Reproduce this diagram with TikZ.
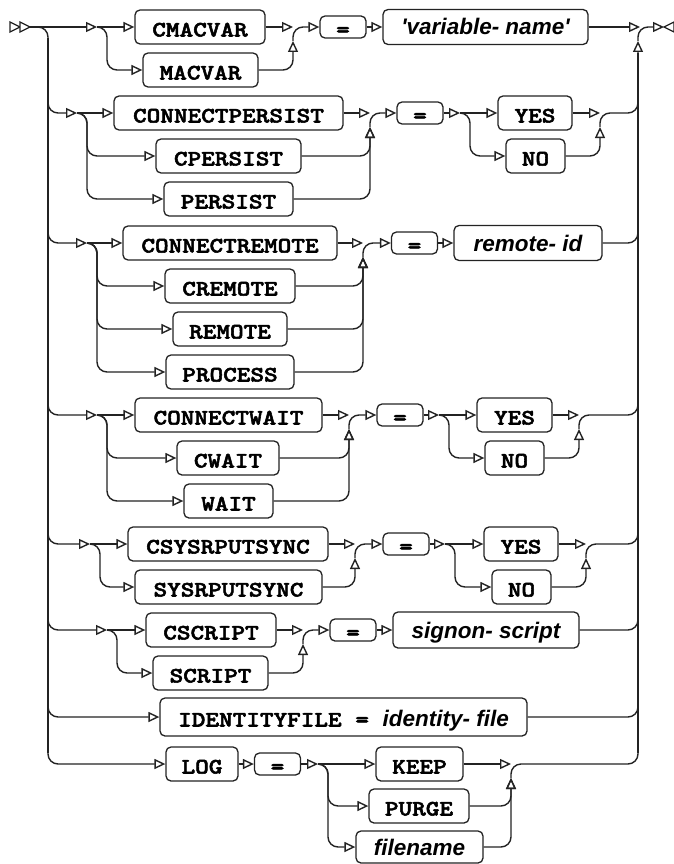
\documentclass[tikz,border=0pt]{standalone}
\usepackage{fontspec}
\newfontfamily\kwfont{lmmonolt10-bold.otf}[FakeStretch=1.18, FakeBold=2.5]
\newfontfamily\sansit{Liberation Sans}[Ligatures=TeXOff]
\usetikzlibrary{arrows.meta}
\definecolor{lc}{RGB}{35,35,35}
\newcommand\itxt{\fontsize{22.5}{26}\selectfont\sansit\bfseries\itshape}
\begin{document}
\begin{tikzpicture}[x=1pt,y=-1pt,
  ln/.style={line width=1.4pt, draw=lc},
  rc/.style={rounded corners=10pt},
  arr/.style={-{Triangle[open,length=11pt,width=10pt]}},
  endmark/.style={draw=lc, line width=1.3pt, fill=white},
  box/.style={draw=lc, line width=1.3pt, rounded corners=5pt, fill=white, inner sep=0pt,
    minimum height=34pt, text height=19pt, text depth=0pt,
    font=\fontsize{22}{26}\selectfont\kwfont},
  eqb/.style={box, minimum height=22pt, minimum width=46pt},
  itb/.style={box, font=\itxt, text height=18pt, text depth=2pt, minimum height=35pt},
]
\useasboundingbox (0,0) rectangle (674,864);

% ---------- markers
\coordinate (start) at (28,27);
\coordinate (endm) at (664,27);
\draw[endmark] (10,22) -- (20,27) -- (10,32) -- cycle;
\draw[endmark] (20,22) -- (30,27) -- (20,32) -- cycle;
\draw[endmark] (674,22) -- (664,27) -- (674,32) -- cycle;

% ---------- nodes
% row 1
\node[box, minimum width=130pt] (cmacvar) at (200,27) {CMACVAR};
\node[box, minimum width=115pt] (macvar) at (200.5,70) {MACVAR};
\node[eqb] (eq1) at (343,27) {=};
\node[itb, minimum width=205pt] (varname) at (485.5,27) {'variable- name'};
% row 2
\node[box, minimum width=229pt] (cp) at (228.5,113) {CONNECTPERSIST};
\node[box, minimum width=145pt] (cpe) at (228.5,156) {CPERSIST};
\node[box, minimum width=129pt] (pe) at (228.5,199) {PERSIST};
\node[eqb] (eq2) at (420,113) {=};
\node[box, minimum width=74pt] (yes2) at (535,113) {YES};
\node[box, minimum width=59pt] (no2) at (535.5,156) {NO};
% row 3
\node[box, minimum width=214pt] (cr) at (230,243) {CONNECTREMOTE};
\node[box, minimum width=130pt] (cre) at (230,286) {CREMOTE};
\node[box, minimum width=114pt] (re) at (230,329) {REMOTE};
\node[box, minimum width=128pt] (pr) at (230,372) {PROCESS};
\node[eqb] (eq3) at (414.5,243) {=};
\node[itb, minimum width=148pt] (rid) at (528,243) {remote- id};
% row 4
\node[box, minimum width=187pt] (cw) at (228.5,415) {CONNECTWAIT};
\node[box, minimum width=102pt] (cwa) at (228,458) {CWAIT};
\node[box, minimum width=89pt] (wa) at (228.5,501) {WAIT};
\node[eqb] (eq4) at (400,415) {=};
\node[box, minimum width=75pt] (yes4) at (514.5,415) {YES};
\node[box, minimum width=59pt] (no4) at (514.5,458) {NO};
% row 5
\node[box, minimum width=200pt] (cs) at (228,544) {CSYSRPUTSYNC};
\node[box, minimum width=187pt] (sy) at (228.5,587) {SYSRPUTSYNC};
\node[eqb] (eq5) at (406,544) {=};
\node[box, minimum width=74pt] (yes5) at (521,544) {YES};
\node[box, minimum width=59pt] (no5) at (521.5,587) {NO};
% row 6
\node[box, minimum width=130pt] (csc) at (211,630) {CSCRIPT};
\node[box, minimum width=115pt] (sc) at (210.5,673) {SCRIPT};
\node[eqb] (eq6) at (353,630) {=};
\node[itb, minimum width=186pt, minimum height=36pt] (so) at (486,630) {signon- script};
% row 7
\node[box, minimum width=367pt, minimum height=38pt] (id) at (343.5,717) {IDENTITYFILE = {\itxt identity- file}};
% row 8
\node[box, minimum width=72pt] (log) at (202,764) {LOG};
\node[eqb] (eq8) at (277.5,764) {=};
\node[box, minimum width=87pt] (keep) at (419.5,764) {KEEP};
\node[box, minimum width=100pt] (purge) at (419,806) {PURGE};
\node[itb, minimum width=127pt, minimum height=32pt] (fn) at (419.5,847) {filename};

% ---------- trunks
\draw[ln,rc,arr] (start) -- (48,27) -- (48,764) -- (log.west);
\draw[lc, line width=2pt] (48,38) -- (48,753);
\draw[ln,rc,arr] (511,778) -- (511,764) -- (638,764) -- (638,41);
\draw[lc, line width=2pt] (638,53) -- (638,753);
\draw[ln,rc,arr] (638,41) -- (638,27) -- (endm);

% ---------- row 1
\coordinate (s1) at (97,27);
\coordinate (j1) at (293,27);
\coordinate (jr) at (640,27);
\draw[ln,arr] (start) -- (s1);
\draw[ln,arr] (s1) -- (cmacvar.west);
\draw[ln,rc,arr] (s1) -- (107,27) -- (107,70) -- (macvar.west);
\draw[ln,arr] (cmacvar.east) -- (j1);
\draw[ln,rc,arr] (macvar.east) -- (293,70) -- (293,41);
\draw[ln,rc,arr] (293,41) -- (j1) -- (eq1.west);
\draw[ln,arr] (eq1.east) -- (varname.west);
\draw[ln,arr] (varname.east) -- (jr);

% ---------- row 2
\coordinate (s2) at (77,113);
\coordinate (j2) at (370,113);
\coordinate (s2b) at (460,113);
\coordinate (j2b) at (600,113);
\draw[ln,rc,arr] (48,93) -- (48,113) -- (s2);
\draw[ln,arr] (s2) -- (cp.west);
\draw[ln,rc,arr] (s2) -- (87,113) -- (87,156) -- (cpe.west);
\draw[ln,rc,arr] (s2) -- (87,113) -- (87,199) -- (pe.west);
\draw[ln,arr] (cp.east) -- (j2);
\draw[ln,rc,arr] (cpe.east) -- (370,156) -- (370,127);
\draw[ln,rc,arr] (pe.east) -- (370,199) -- (370,127);
\draw[ln,rc,arr] (370,127) -- (j2) -- (eq2.west);
\draw[ln,arr] (eq2.east) -- (s2b);
\draw[ln,arr] (s2b) -- (yes2.west);
\draw[ln,rc,arr] (s2b) -- (470,113) -- (470,156) -- (no2.west);
\draw[ln,arr] (yes2.east) -- (j2b);
\draw[ln,rc,arr] (no2.east) -- (600,156) -- (600,127);
\draw[ln,rc] (600,127) -- (j2b) -- (638,113) -- (638,93);

% ---------- row 3
\coordinate (s3) at (87,243);
\coordinate (j3) at (363,243);
\draw[ln,rc,arr] (48,223) -- (48,243) -- (s3);
\draw[ln,arr] (s3) -- (cr.west);
\draw[ln,rc,arr] (s3) -- (97,243) -- (97,286) -- (cre.west);
\draw[ln,rc,arr] (s3) -- (97,243) -- (97,329) -- (re.west);
\draw[ln,rc,arr] (s3) -- (97,243) -- (97,372) -- (pr.west);
\draw[ln,arr] (cr.east) -- (j3);
\draw[ln,rc,arr] (cre.east) -- (363,286) -- (363,257);
\draw[ln,rc,arr] (re.east) -- (363,329) -- (363,257);
\draw[ln,rc,arr] (pr.east) -- (363,372) -- (363,257);
\draw[ln,rc,arr] (363,257) -- (j3) -- (eq3.west);
\draw[ln,arr] (eq3.east) -- (rid.west);
\draw[ln,rc] (rid.east) -- (638,243) -- (638,223);

% ---------- row 4
\coordinate (s4) at (97,415);
\coordinate (j4) at (349,415);
\coordinate (s4b) at (439,415);
\coordinate (j4b) at (579,415);
\draw[ln,rc,arr] (48,395) -- (48,415) -- (s4);
\draw[ln,arr] (s4) -- (cw.west);
\draw[ln,rc,arr] (s4) -- (107,415) -- (107,458) -- (cwa.west);
\draw[ln,rc,arr] (s4) -- (107,415) -- (107,501) -- (wa.west);
\draw[ln,arr] (cw.east) -- (j4);
\draw[ln,rc,arr] (cwa.east) -- (349,458) -- (349,429);
\draw[ln,rc,arr] (wa.east) -- (349,501) -- (349,429);
\draw[ln,rc,arr] (349,429) -- (j4) -- (eq4.west);
\draw[ln,arr] (eq4.east) -- (s4b);
\draw[ln,arr] (s4b) -- (yes4.west);
\draw[ln,rc,arr] (s4b) -- (449,415) -- (449,458) -- (no4.west);
\draw[ln,arr] (yes4.east) -- (j4b);
\draw[ln,rc,arr] (no4.east) -- (579,458) -- (579,429);
\draw[ln,rc] (579,429) -- (j4b) -- (638,415) -- (638,395);

% ---------- row 5
\coordinate (s5) at (90,544);
\coordinate (j5) at (355,544);
\coordinate (s5b) at (445,544);
\coordinate (j5b) at (586,544);
\draw[ln,rc,arr] (48,524) -- (48,544) -- (s5);
\draw[ln,arr] (s5) -- (cs.west);
\draw[ln,rc,arr] (s5) -- (100,544) -- (100,587) -- (sy.west);
\draw[ln,arr] (cs.east) -- (j5);
\draw[ln,rc,arr] (sy.east) -- (355,587) -- (355,558);
\draw[ln,rc,arr] (355,558) -- (j5) -- (eq5.west);
\draw[ln,arr] (eq5.east) -- (s5b);
\draw[ln,arr] (s5b) -- (yes5.west);
\draw[ln,rc,arr] (s5b) -- (455,544) -- (455,587) -- (no5.west);
\draw[ln,arr] (yes5.east) -- (j5b);
\draw[ln,rc,arr] (no5.east) -- (586,587) -- (586,558);
\draw[ln,rc] (586,558) -- (j5b) -- (638,544) -- (638,524);

% ---------- row 6
\coordinate (s6) at (107,630);
\coordinate (j6) at (303,630);
\draw[ln,rc,arr] (48,610) -- (48,630) -- (s6);
\draw[ln,arr] (s6) -- (csc.west);
\draw[ln,rc,arr] (s6) -- (117,630) -- (117,673) -- (sc.west);
\draw[ln,arr] (csc.east) -- (j6);
\draw[ln,rc,arr] (sc.east) -- (303,673) -- (303,644);
\draw[ln,rc,arr] (303,644) -- (j6) -- (eq6.west);
\draw[ln,arr] (eq6.east) -- (so.west);
\draw[ln,rc] (so.east) -- (638,630) -- (638,610);

% ---------- row 7
\draw[ln,rc,arr] (48,697) -- (48,717) -- (id.west);
\draw[ln,rc] (id.east) -- (638,717) -- (638,697);

% ---------- row 8
\coordinate (s8) at (318,764);
\coordinate (j8) at (511,764);
\draw[ln,arr] (log.east) -- (eq8.west);
\draw[ln,arr] (eq8.east) -- (s8);
\draw[ln,arr] (s8) -- (keep.west);
\draw[ln,rc,arr] (s8) -- (328,764) -- (328,806) -- (purge.west);
\draw[ln,rc,arr] (s8) -- (328,764) -- (328,847) -- (fn.west);
\draw[ln,arr] (keep.east) -- (j8);
\draw[ln,rc,arr] (purge.east) -- (511,806) -- (511,778);
\draw[ln,rc,arr] (fn.east) -- (511,847) -- (511,778);
\end{tikzpicture}
\end{document}
